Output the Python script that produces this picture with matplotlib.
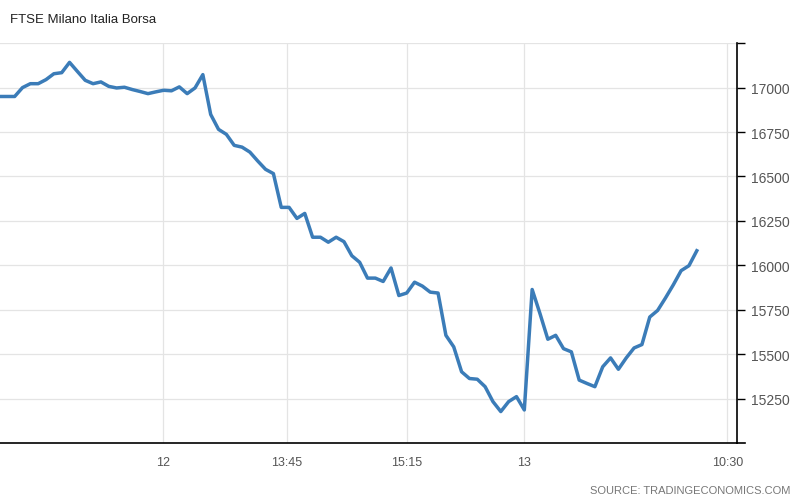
#!/usr/bin/env python3
# FTSE Milano Italia Borsa intraday line, tradingeconomics style:
# right-hand price axis, light grid, source note bottom right.

import matplotlib
matplotlib.use("Agg")
import matplotlib.pyplot as plt

# Index values, one per sample
prices = [
    16950, 16950, 16950, 17000, 17022, 17022, 17045, 17078, 17084, 17142,
    17091, 17041, 17022, 17032, 17007, 16998, 17002, 16989, 16978, 16966,
    16976, 16985, 16982, 17004, 16966, 16998, 17073, 16849, 16765, 16737,
    16675, 16665, 16637, 16587, 16540, 16516, 16326, 16326, 16264, 16292,
    16158, 16158, 16130, 16158, 16133, 16054, 16017, 15928, 15928, 15909,
    15985, 15830, 15844, 15905, 15883, 15849, 15844, 15606, 15541, 15401,
    15363, 15359, 15317, 15233, 15177, 15233, 15261, 15186, 15864, 15728,
    15584, 15606, 15531, 15513, 15354, 15335, 15317, 15429, 15479, 15415,
    15479, 15535, 15554, 15709, 15746, 15816, 15890, 15970, 15998, 16082,
]
samples = list(range(len(prices)))

# Time labels and the sample positions they sit at
xtick_pos = [20.9, 36.7, 52.0, 67.0, 92.9]
xtick_labels = ["12", "13:45", "15:15", "13", "10:30"]

ytick_vals = [15250, 15500, 15750, 16000, 16250, 16500, 16750, 17000, 17250]
ytick_labels = ["15250", "15500", "15750", "16000", "16250", "16500",
                "16750", "17000", ""]

LINE_COLOR = "#3b7cb8"
GRID_COLOR = "#e4e4e4"
TEXT_COLOR = "#555555"

plt.rcParams["font.family"] = ["Liberation Sans", "DejaVu Sans"]

fig = plt.figure(figsize=(8.0, 5.02), dpi=100)
ax = fig.add_axes([0.0, 0.1155, 0.921, 0.7965])

ax.plot(samples, prices, color=LINE_COLOR, linewidth=2.5,
        solid_joinstyle="round", zorder=3)

ax.set_xlim(0.13, 94.1)
ax.set_ylim(15000, 17250)

ax.yaxis.tick_right()
ax.set_yticks(ytick_vals)
ax.set_yticklabels(ytick_labels)
ax.set_xticks(xtick_pos)
ax.set_xticklabels(xtick_labels)

ax.tick_params(axis="y", direction="out", length=6, width=1.0,
               color="black", pad=4, labelsize=10, labelcolor=TEXT_COLOR)
ax.tick_params(axis="x", length=0, pad=9, labelsize=9,
               labelcolor=TEXT_COLOR)

ax.grid(True, color=GRID_COLOR, linewidth=0.9, zorder=0)

for side in ("top", "left"):
    ax.spines[side].set_visible(False)
for side in ("right", "bottom"):
    ax.spines[side].set_color("black")
    ax.spines[side].set_linewidth(1.2)

# bottom rule runs a little past the price axis, as in the source chart
fig.add_artist(plt.Line2D([0.921, 0.931], [0.1155, 0.1155],
                          color="black", linewidth=1.2))

fig.text(0.0125, 0.96, "FTSE Milano Italia Borsa", fontsize=9.5,
         color="#222222", ha="left", va="center")
fig.text(0.9875, 0.012, "SOURCE: TRADINGECONOMICS.COM", fontsize=8,
         color="#777777", ha="right", va="bottom")

fig.savefig("out.png", dpi=100)
